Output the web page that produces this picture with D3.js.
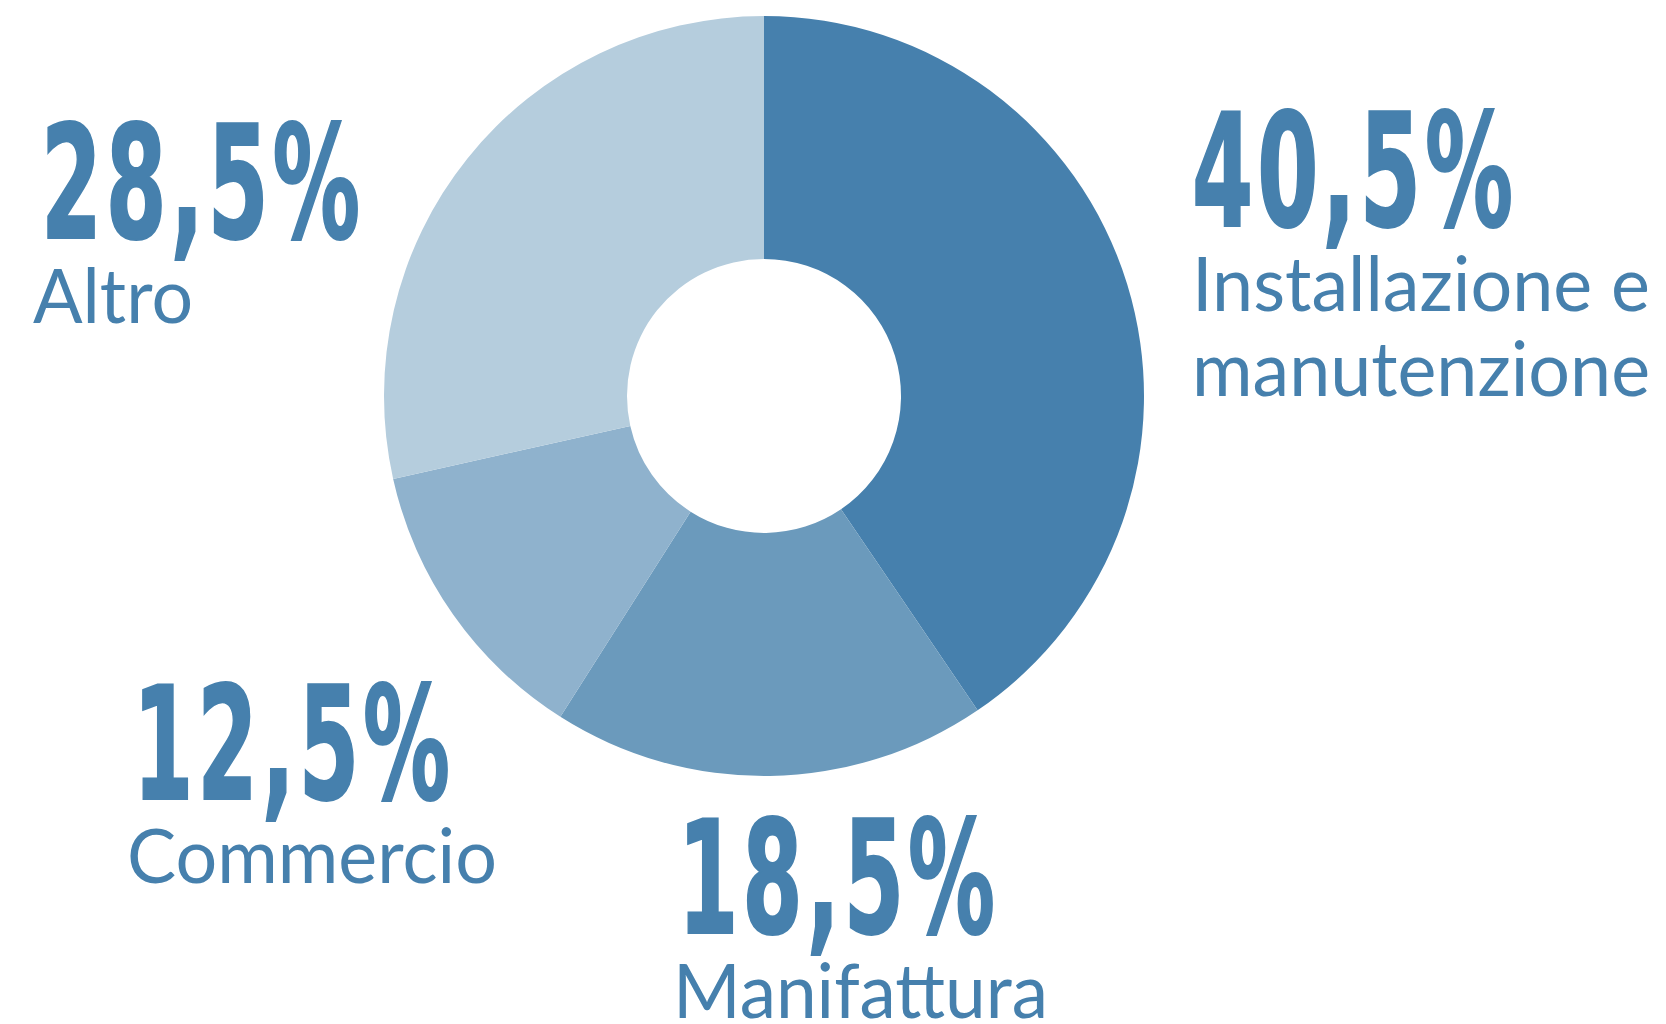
<!DOCTYPE html>
<html lang="it">
<head>
<meta charset="utf-8">
<title>Distribuzione per settore</title>
<script src="https://cdn.jsdelivr.net/npm/d3@7"></script>
<style>
  html, body { margin: 0; padding: 0; background: #ffffff; }
  svg { display: block; }
</style>
</head>
<body>
<svg id="chart" width="1666" height="1024"></svg>
<script>
// Sector shares (percent), clockwise from 12 o'clock
const categories = ["Installazione e\nmanutenzione", "Manifattura", "Commercio", "Altro"];
const shares = [40.5, 18.5, 12.5, 28.5];
const sliceColors = ["#4680ad", "#6b9abc", "#8fb2cd", "#b5cddd"];

// Label placement for each sector: value block and name lines
const labelLayout = [
  { x: 1192, numY: 226, numW: 321, nameX: 1192, nameY: [311, 396], nameW: [458, 458] },
  { x: 678,  numY: 933, numW: 317, nameX: 673,  nameY: [1018],     nameW: [375] },
  { x: 133,  numY: 799, numW: 317, nameX: 127,  nameY: [883],      nameW: [370] },
  { x: 41,   numY: 238, numW: 319, nameX: 33,   nameY: [323],      nameW: [160] }
];

const textColor = "#4680ad";
const cx = 764, cy = 396, outerR = 380, innerR = 137;

const svg = d3.select("#chart");

// Italian number formatting: comma as decimal separator
const itLocale = d3.formatLocale({ decimal: ",", thousands: ".", grouping: [3], currency: ["€", ""] });
const fmt = itLocale.format(".1f");

const pie = d3.pie().sort(null).value(d => d).startAngle(0).endAngle(2 * Math.PI);
const arc = d3.arc().innerRadius(innerR).outerRadius(outerR);
const color = d3.scaleOrdinal().domain(d3.range(shares.length)).range(sliceColors);

svg.append("g")
  .attr("transform", `translate(${cx},${cy})`)
  .selectAll("path")
  .data(pie(shares))
  .join("path")
  .attr("d", arc)
  .attr("fill", (d, i) => color(i));

// Labels
const labels = svg.append("g").attr("fill", textColor);

shares.forEach((v, i) => {
  const lay = labelLayout[i];

  // Large condensed percentage
  const num = labels.append("text")
    .attr("x", 0).attr("y", 0)
    .style("font-family", "'Liberation Sans Narrow', 'DejaVu Sans Condensed', 'Roboto', sans-serif")
    .style("font-weight", "700")
    .style("font-size", "157px")
    .attr("stroke", textColor)
    .attr("stroke-width", 2)
    .attr("stroke-linejoin", "miter")
    .text(fmt(v) + "%");
  const natural = num.node().getComputedTextLength();
  const sx = 0.95 * lay.numW / natural;
  num.attr("transform", `translate(${lay.x},${lay.numY}) scale(${sx},1)`)
    .attr("textLength", lay.numW / sx)
    .attr("lengthAdjust", "spacing");

  // Sector name, one text per line
  categories[i].split("\n").forEach((line, j) => {
    labels.append("text")
      .attr("x", lay.nameX)
      .attr("y", lay.nameY[j])
      .style("font-family", "Lato, 'Open Sans', sans-serif")
      .style("font-weight", "400")
      .style("font-size", "75px")
      .attr("textLength", lay.nameW[j])
      .attr("lengthAdjust", "spacingAndGlyphs")
      .text(line);
  });
});
</script>
</body>
</html>
